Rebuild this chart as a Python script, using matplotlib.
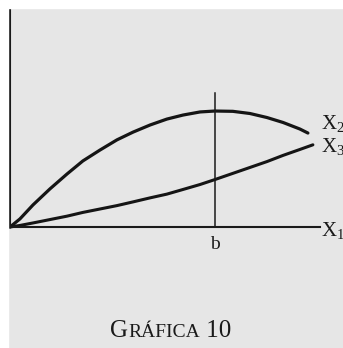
import matplotlib
matplotlib.use("Agg")
import matplotlib.pyplot as plt
from matplotlib.patches import Rectangle

# values (arbitrary units, origin at the axes corner)
x2_x = [0, 3.2, 7.4, 12.9, 18.4, 23.5, 29.0, 34.5, 39.7, 45.2, 50.6, 55.8,
        61.3, 66.1, 71.9, 77.4, 82.9, 88.1, 93.5, 96.1]
x2_y = [0, 2.6, 7.1, 12.3, 17.1, 21.3, 24.8, 28.1, 30.6, 32.9, 34.8, 36.1,
        37.1, 37.4, 37.3, 36.6, 35.3, 33.7, 31.6, 30.3]
x3_x = [0, 3.2, 7.4, 12.9, 18.4, 23.5, 29.0, 34.5, 39.7, 45.2, 50.6, 55.8,
        61.3, 66.1, 71.9, 77.4, 82.9, 88.1, 93.5, 97.7]
x3_y = [0, 0.5, 1.3, 2.4, 3.5, 4.7, 5.8, 6.9, 8.1, 9.4, 10.6, 12.1,
        13.7, 15.3, 17.3, 19.2, 21.1, 23.1, 25.0, 26.5]
b_pos = 66.1
b_top = 43.2
x_max = 100
y_max = 70.3

plt.rcParams['font.family'] = ['Liberation Serif', 'DejaVu Serif']
plt.rcParams['mathtext.fontset'] = 'custom'
plt.rcParams['mathtext.rm'] = 'Liberation Serif'

W, H = 343, 348
fig = plt.figure(figsize=(W / 100, H / 100), dpi=100, facecolor='#e6e6e6')

# white scan margins at top and left
fig.patches.append(Rectangle((0, 1 - 8 / H), 1, 8 / H, transform=fig.transFigure,
                             color='white', zorder=0))
fig.patches.append(Rectangle((0, 0), 8 / W, 1, transform=fig.transFigure,
                             color='white', zorder=0))

ax = fig.add_axes([10 / W, 121 / H, 310 / W, 218 / H])
ax.set_facecolor('none')
ax.set_xlim(0, x_max)
ax.set_ylim(0, y_max)
for s in ['top', 'right']:
    ax.spines[s].set_visible(False)
for s in ['left', 'bottom']:
    ax.spines[s].set_linewidth(1.5)
    ax.spines[s].set_color('#1a1a1a')
ax.set_xticks([])
ax.set_yticks([])

ax.plot(x2_x, x2_y, color='#151515', lw=2.3, solid_capstyle='round',
        solid_joinstyle='round', clip_on=False)
ax.plot(x3_x, x3_y, color='#151515', lw=2.2, solid_capstyle='round',
        solid_joinstyle='round', clip_on=False)
ax.plot([b_pos, b_pos], [0, b_top], color='#1a1a1a', lw=1.1)

ax.text(b_pos, -5.5, 'b', ha='center', va='center', fontsize=14, color='#1a1a1a')
ax.text(x_max + 0.3, 33.0, r'$\mathrm{X}_2$', ha='left', va='center', fontsize=15, color='#1a1a1a')
ax.text(x_max + 0.3, 25.6, r'$\mathrm{X}_3$', ha='left', va='center', fontsize=15, color='#1a1a1a')
ax.text(x_max + 0.3, -1.4, r'$\mathrm{X}_1$', ha='left', va='center', fontsize=15, color='#1a1a1a')

# title in small caps made from three pieces
renderer = fig.canvas.get_renderer()
y_t = 1 - 337 / H
x_t = 110 / W
t1 = fig.text(x_t, y_t, 'G', fontsize=18, ha='left', va='baseline', color='#1a1a1a')
w1 = t1.get_window_extent(renderer).width / W
t2 = fig.text(x_t + w1, y_t, 'RÁFICA', fontsize=14, ha='left', va='baseline', color='#1a1a1a')
w2 = t2.get_window_extent(renderer).width / W
fig.text(x_t + w1 + w2, y_t, ' 10', fontsize=18, ha='left', va='baseline', color='#1a1a1a')

fig.savefig('out.png', dpi=100, facecolor=fig.get_facecolor())
